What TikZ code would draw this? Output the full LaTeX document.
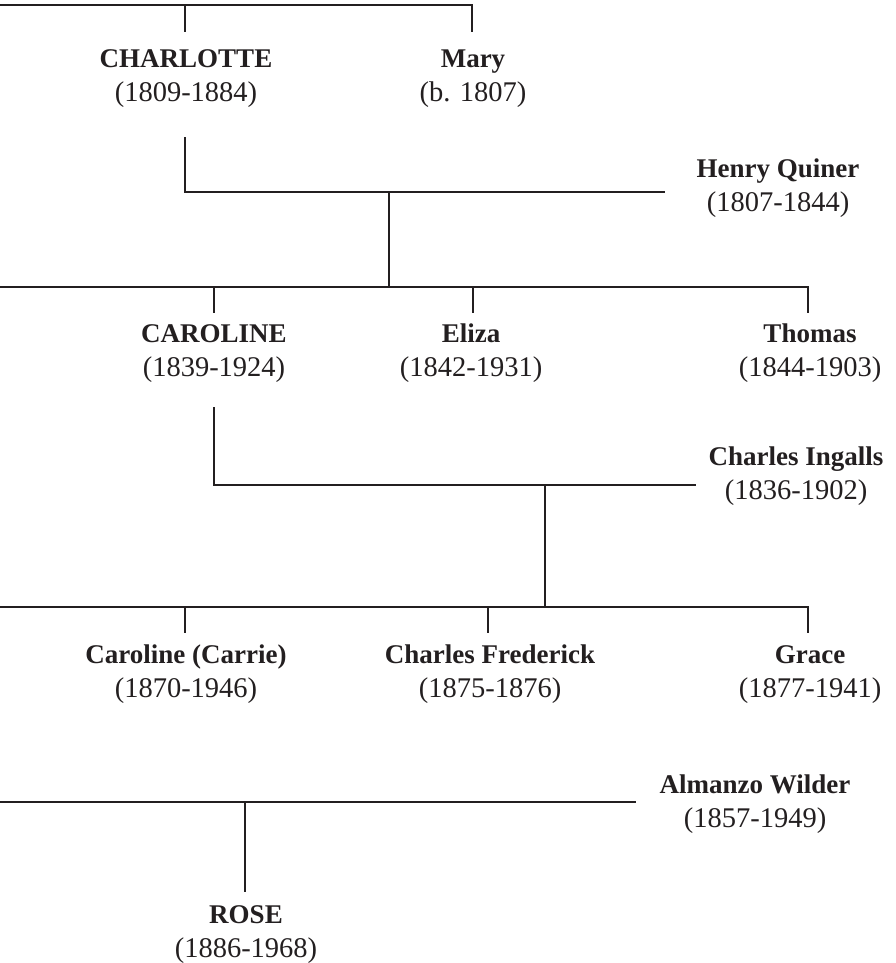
\documentclass[tikz,border=0pt]{standalone}
\usepackage{fontspec}
\setmainfont{Liberation Serif}
\definecolor{ink}{HTML}{231F20}
\newcommand{\yrs}[1]{{\fontsize{28.5}{34}\selectfont #1}}
\begin{document}
\begin{tikzpicture}[x=1pt,y=1pt,
  person/.style={align=center, inner sep=0pt, anchor=base, text=ink,
    font=\fontsize{27}{34}\selectfont},
  tree/.style={draw=ink, line width=1.8pt}]
\fill[white] (0,0) rectangle (895,-963);
\useasboundingbox (0,0) rectangle (895,-963);

% generation 0
\node[person] (charlotte) at (186,-102) {\textbf{CHARLOTTE}\\\yrs{(1809-1884)}};
\node[person] (mary) at (473,-102) {\textbf{Mary}\\\yrs{(b. 1807)}};
\coordinate (g0L) at (0,-5);
\coordinate (g0R) at (472,-5);
\coordinate (charlotteT) at (185,-32);
\coordinate (maryT) at (472,-32);
\draw[tree] (g0L) -- (g0R) -- (maryT);
\draw[tree] (charlotteT |- g0L) -- (charlotteT);

% marriage 1
\node[person] (henry) at (778,-211) {\textbf{Henry Quiner}\\\yrs{(1807-1844)}};
\coordinate (charlotteB) at (185,-137);
\coordinate (m1L) at (185,-192);
\coordinate (m1R) at (665,-192);
\coordinate (m1D) at (389,-192);
\coordinate (g1J) at (389,-287);
\draw[tree] (charlotteB) -- (m1L) -- (m1R);
\draw[tree] (m1D) -- (g1J);

% generation 1
\node[person] (caroline) at (214,-376) {\textbf{CAROLINE}\\\yrs{(1839-1924)}};
\node[person] (eliza) at (471,-376) {\textbf{Eliza}\\\yrs{(1842-1931)}};
\node[person] (thomas) at (810,-376) {\textbf{Thomas}\\\yrs{(1844-1903)}};
\coordinate (g1L) at (0,-287);
\coordinate (g1R) at (808,-287);
\coordinate (carolineT) at (214,-313);
\coordinate (elizaT) at (473,-313);
\coordinate (thomasT) at (808,-313);
\draw[tree] (g1L) -- (g1R) -- (thomasT);
\draw[tree] (carolineT |- g1L) -- (carolineT);
\draw[tree] (elizaT |- g1L) -- (elizaT);

% marriage 2
\node[person] (charles) at (796,-499) {\textbf{Charles Ingalls}\\\yrs{(1836-1902)}};
\coordinate (carolineB) at (214,-407);
\coordinate (m2L) at (214,-485);
\coordinate (m2R) at (696,-485);
\coordinate (m2D) at (545,-485);
\coordinate (g2J) at (545,-607);
\draw[tree] (carolineB) -- (m2L) -- (m2R);
\draw[tree] (m2D) -- (g2J);

% generation 2
\node[person] (carrie) at (186,-697) {\textbf{Caroline (Carrie)}\\\yrs{(1870-1946)}};
\node[person] (frederick) at (490,-697) {\textbf{Charles Frederick}\\\yrs{(1875-1876)}};
\node[person] (grace) at (810,-697) {\textbf{Grace}\\\yrs{(1877-1941)}};
\coordinate (g2L) at (0,-607);
\coordinate (g2R) at (808,-607);
\coordinate (carrieT) at (185,-633);
\coordinate (frederickT) at (488,-633);
\coordinate (graceT) at (808,-633);
\draw[tree] (g2L) -- (g2R) -- (graceT);
\draw[tree] (carrieT |- g2L) -- (carrieT);
\draw[tree] (frederickT |- g2L) -- (frederickT);

% marriage 3
\node[person] (almanzo) at (755,-827) {\textbf{Almanzo Wilder}\\\yrs{(1857-1949)}};
\coordinate (m3L) at (0,-802);
\coordinate (m3R) at (636,-802);
\coordinate (m3D) at (245,-802);
\coordinate (roseT) at (245,-892);
\draw[tree] (m3L) -- (m3R);
\draw[tree] (m3D) -- (roseT);

% generation 3
\node[person] (rose) at (246,-957) {\textbf{ROSE}\\\yrs{(1886-1968)}};
\end{tikzpicture}
\end{document}
